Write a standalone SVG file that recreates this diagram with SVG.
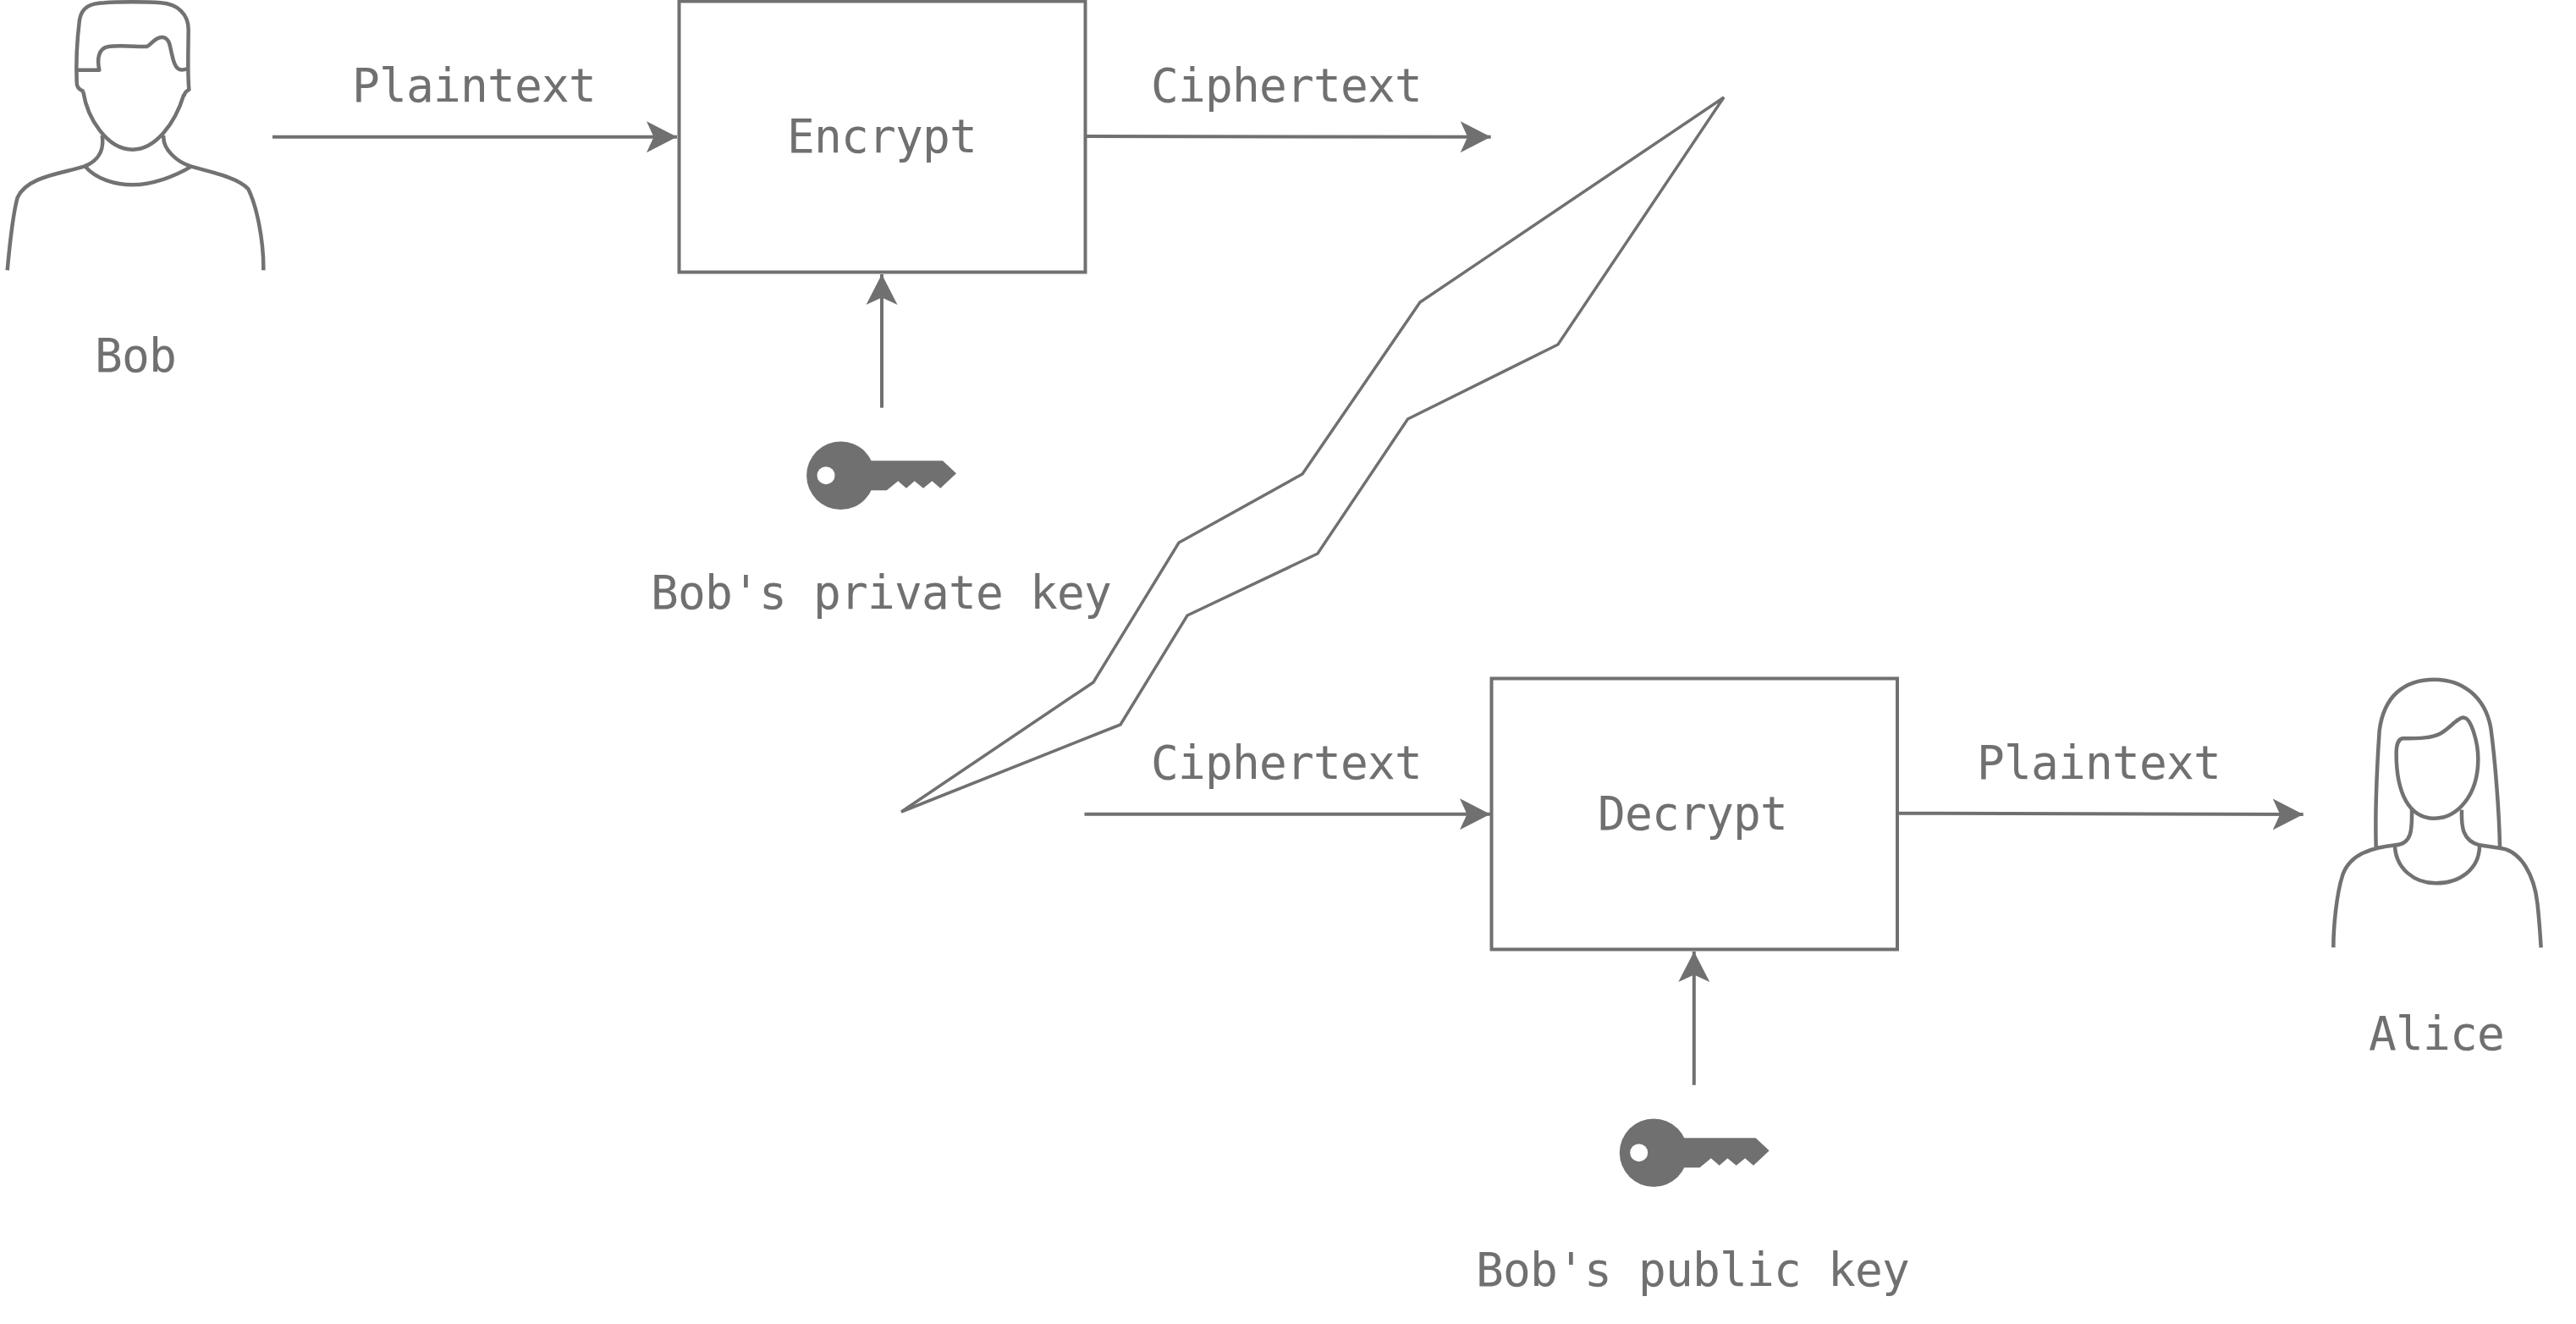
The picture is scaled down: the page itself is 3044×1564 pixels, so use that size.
<svg xmlns="http://www.w3.org/2000/svg" xmlns:xlink="http://www.w3.org/1999/xlink" width="3044" height="1564" viewBox="0 0 3044 1564">
<style>
.t{font-family:"DejaVu Sans Mono","Liberation Mono",monospace;font-size:54.5px;letter-spacing:-0.8px;fill:#707070;text-anchor:middle}
.s{fill:none;stroke:#707070;stroke-width:4}
.p{fill:none;stroke:#727272;stroke-width:13.500;stroke-linejoin:round}
.c{fill:none;stroke:#707070;stroke-width:4}
.k{fill:#707070}
</style>
<defs>
<marker id="arrow" markerUnits="userSpaceOnUse" markerWidth="40" markerHeight="40" refX="37" refY="19" orient="auto" overflow="visible">
<path d="M37 19L1 0.5L9.500 19L1 37.500Z" fill="#707070"/>
</marker>
<g id="key">
<circle cx="993.400" cy="561.700" r="40.300" class="k"/>
<path class="k" d="M1020 544.300H1114L1130 559.300L1111.300 576.700L1101.400 568.300L1091 576.700L1080.700 568.300L1071 576.700L1061.200 568.300L1047.800 579.300H1020Z"/>
<circle cx="976" cy="561.700" r="10.500" fill="#fff"/>
</g>
</defs>
<rect width="3044" height="1564" fill="#fff"/>
<g id="bob">
<g transform="scale(0.33333)">
<path class="p" d="M298 325C275 315 272 305 272 290C270 240 272 150 282 70C290 25 320 12 370 10C420 6 520 6 570 10C630 14 668 50 668 105C668 170 664 250 670 318C660 322 655 328 652 340"/>
<path class="p" d="M275 248H352C345 215 345 170 385 165C420 160 480 165 520 165C535 160 550 130 575 132C605 135 602 170 610 195C620 245 635 255 665 243"/>
<path class="p" d="M295 325C310 420 380 530 470 530C550 530 620 440 652 335"/>
<path class="p" d="M362 480C370 530 350 570 298 590C220 615 95 625 62 700C45 760 35 860 26 958"/>
<path class="p" d="M580 480C575 530 630 575 678 590C750 610 845 630 880 670C910 730 935 850 934 958"/>
<path class="p" d="M302 590C340 635 410 655 470 655C540 655 620 625 678 590"/>
</g>
<text class="t" x="160" y="439">Bob</text>
</g>
<g id="encrypt">
<rect class="s" x="802.500" y="1.500" width="480" height="320"/>
<text class="t" x="1042" y="180">Encrypt</text>
</g>
<g id="private-key">
<use xlink:href="#key" href="#key"/>
<text class="t" x="1041" y="719">Bob's private key</text>
</g>
<g id="channel">
<path d="M2037 115L1678 357L1539 560L1393 641L1292 806L1065 959L1324 856L1403 727L1557 654L1663.500 495L1841 407Z" fill="none" stroke="#707070" stroke-width="3.500"/>
</g>
<g id="decrypt">
<rect class="s" x="1762.500" y="801.500" width="479.500" height="320"/>
<text class="t" x="2000" y="980">Decrypt</text>
</g>
<g id="public-key">
<use xlink:href="#key" href="#key" transform="translate(960.700 800)"/>
<text class="t" x="2000" y="1519">Bob's public key</text>
</g>
<g id="alice">
<g transform="translate(2740 780) scale(0.33333)">
<path class="p" d="M203 662C200 550 205 400 215 250C230 130 300 68 410 68C510 68 590 130 610 240C625 350 640 540 642 660"/>
<path class="p" d="M300 277C360 277 400 275 430 260C460 245 495 200 515 203C540 205 565 290 565 350C565 480 490 560 410 560C320 560 275 470 275 330C275 295 285 277 300 277Z"/>
<path class="p" d="M330 530C330 590 335 650 272 655C180 665 110 690 85 760C62 830 52 950 52 1018"/>
<path class="p" d="M507 530C505 590 510 640 570 655L640 665C720 672 765 770 775 860C782 920 785 970 788 1018"/>
<path class="p" d="M270 660C275 740 340 790 415 790C500 790 568 740 570 660"/>
</g>
<text class="t" x="2879" y="1239.500">Alice</text>
</g>
<g id="connectors">
<path class="c" marker-end="url(#arrow)" d="M322 161.700H800"/>
<path class="c" marker-end="url(#arrow)" d="M1283 161L1761.700 161.800"/>
<path class="c" marker-end="url(#arrow)" d="M1042 481.700V324"/>
<path class="c" marker-end="url(#arrow)" d="M1281.500 961.700H1761"/>
<path class="c" marker-end="url(#arrow)" d="M2242 960.700L2721.700 962"/>
<path class="c" marker-end="url(#arrow)" d="M2001.800 1281.700V1124"/>
</g>
<g id="labels">
<text class="t" x="560" y="119.500">Plaintext</text>
<text class="t" x="1520" y="120">Ciphertext</text>
<text class="t" x="1520" y="920">Ciphertext</text>
<text class="t" x="2480" y="920">Plaintext</text>
</g>
</svg>
